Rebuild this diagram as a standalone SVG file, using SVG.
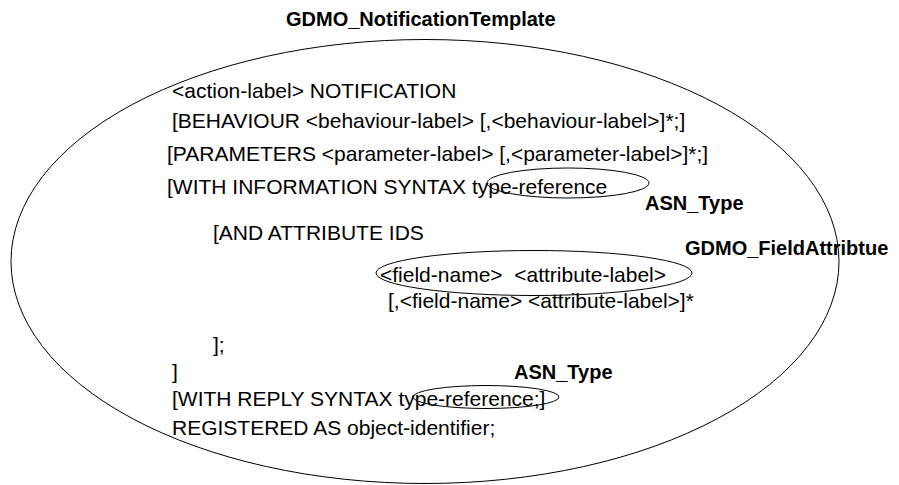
<svg xmlns="http://www.w3.org/2000/svg" width="899" height="485" viewBox="0 0 899 485">
<style>
  .t { font-family: "Liberation Sans", Arial, sans-serif; font-size: 21px; fill: #000; }
  .b { font-family: "Liberation Sans", Arial, sans-serif; font-size: 20px; font-weight: bold; fill: #000; }
  .e { fill: none; stroke: #000; stroke-width: 1; }
</style>
<rect width="899" height="485" fill="#fff"/>
<g id="template">
  <ellipse class="e" cx="425" cy="261.5" rx="414" ry="222"/>
  <text class="b" x="286" y="26">GDMO_NotificationTemplate</text>
  <text class="t" x="172" y="98">&lt;action-label&gt; NOTIFICATION</text>
  <text class="t" x="172" y="128">[BEHAVIOUR &lt;behaviour-label&gt; [,&lt;behaviour-label&gt;]*;]</text>
  <text class="t" x="167" y="161">[PARAMETERS &lt;parameter-label&gt; [,&lt;parameter-label&gt;]*;]</text>
  <text class="t" x="167" y="194">[WITH INFORMATION SYNTAX type-reference</text>
  <text class="t" x="213" y="240">[AND ATTRIBUTE IDS</text>
  <text class="t" x="380" y="282" xml:space="preserve">&lt;field-name&gt;  &lt;attribute-label&gt;</text>
  <text class="t" x="388" y="308">[,&lt;field-name&gt; &lt;attribute-label&gt;]*</text>
  <text class="t" x="213" y="352">];</text>
  <text class="t" x="172" y="379">]</text>
  <text class="t" x="172" y="406">[WITH REPLY SYNTAX type-reference;]</text>
  <text class="t" x="172" y="435">REGISTERED AS object-identifier;</text>
</g>
<g id="asn_type_1">
  <ellipse class="e" cx="568" cy="183" rx="81" ry="15"/>
  <text class="b" x="645" y="210">ASN_Type</text>
</g>
<g id="field_attribute">
  <ellipse class="e" cx="534" cy="273" rx="158" ry="22.5"/>
  <text class="b" x="685" y="255">GDMO_FieldAttribtue</text>
</g>
<g id="asn_type_2">
  <ellipse class="e" cx="486" cy="397" rx="73" ry="11.5"/>
  <text class="b" x="514" y="379">ASN_Type</text>
</g>
<g id="connectors"></g>
</svg>
